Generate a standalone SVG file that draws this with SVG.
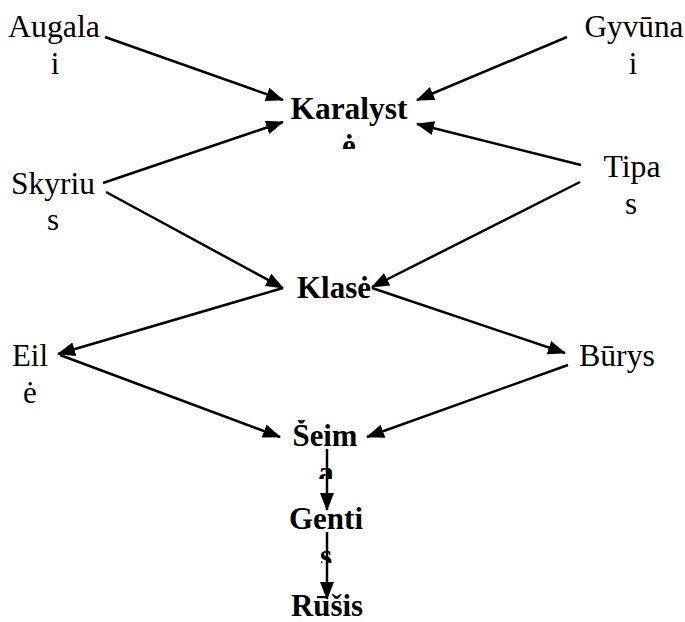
<svg xmlns="http://www.w3.org/2000/svg" width="685" height="622" viewBox="0 0 685 622">
<style>
text{font-family:"Liberation Serif","Times New Roman",serif;font-size:31px;fill:#000;text-anchor:middle}
.b{font-weight:bold}
.c line{stroke:#000;stroke-width:2.5;marker-end:url(#ah)}
</style>
<defs>
<marker id="ah" viewBox="0 0 18 14" refX="17" refY="7" markerWidth="18" markerHeight="14" markerUnits="userSpaceOnUse" orient="auto">
<path d="M0,0 L18,7 L0,14 z" fill="#000"/>
</marker>
<clipPath id="clK"><rect x="280" y="90" width="140" height="59"/></clipPath>
<clipPath id="clS"><rect x="280" y="420" width="90" height="59"/></clipPath>
<clipPath id="clG"><rect x="280" y="505" width="90" height="58"/></clipPath>
</defs>
<rect width="685" height="622" fill="#fff"/>
<g class="c" id="connectors">
<line x1="105" y1="37" x2="283" y2="100"/>
<line x1="567" y1="37" x2="417" y2="100"/>
<line x1="103" y1="183" x2="283" y2="122"/>
<line x1="581" y1="165" x2="417" y2="124"/>
<line x1="106" y1="192" x2="283" y2="288"/>
<line x1="580" y1="182" x2="372" y2="287"/>
<line x1="283" y1="288" x2="58" y2="354"/>
<line x1="372" y1="288" x2="565" y2="353"/>
<line x1="60" y1="355" x2="280" y2="437"/>
<line x1="568" y1="365" x2="367" y2="437"/>
<line x1="327" y1="449" x2="327" y2="510"/>
<line x1="327" y1="532" x2="327" y2="599"/>
</g>
<g id="augalai"><text x="54" y="37" textLength="92" lengthAdjust="spacingAndGlyphs">Augala</text><text x="55" y="74">i</text></g>
<g id="gyvunai"><text x="634" y="37" textLength="99" lengthAdjust="spacingAndGlyphs">Gyvūna</text><text x="633" y="74">i</text></g>
<g id="karalyste" clip-path="url(#clK)"><text class="b" x="349" y="119" textLength="117" lengthAdjust="spacingAndGlyphs">Karalyst</text><text class="b" x="349" y="156">ė</text></g>
<g id="skyrius"><text x="53" y="194" textLength="84" lengthAdjust="spacingAndGlyphs">Skyriu</text><text x="53" y="230">s</text></g>
<g id="tipas"><text x="632" y="177" textLength="57" lengthAdjust="spacingAndGlyphs">Tipa</text><text x="631" y="214">s</text></g>
<g id="klase"><text class="b" x="334" y="298" textLength="74" lengthAdjust="spacingAndGlyphs">Klasė</text></g>
<g id="eile"><text x="30" y="366" textLength="36" lengthAdjust="spacingAndGlyphs">Eil</text><text x="30" y="403">ė</text></g>
<g id="burys"><text x="617" y="366" textLength="76" lengthAdjust="spacingAndGlyphs">Būrys</text></g>
<g id="seima" clip-path="url(#clS)"><text class="b" x="325" y="446" textLength="65" lengthAdjust="spacingAndGlyphs">Šeim</text><text class="b" x="326" y="483">a</text></g>
<g id="gentis" clip-path="url(#clG)"><text class="b" x="326" y="529" textLength="74" lengthAdjust="spacingAndGlyphs">Genti</text><text class="b" x="326" y="566">s</text></g>
<g id="rusis"><text class="b" x="327" y="616" textLength="72" lengthAdjust="spacingAndGlyphs">Rūšis</text></g>
</svg>
